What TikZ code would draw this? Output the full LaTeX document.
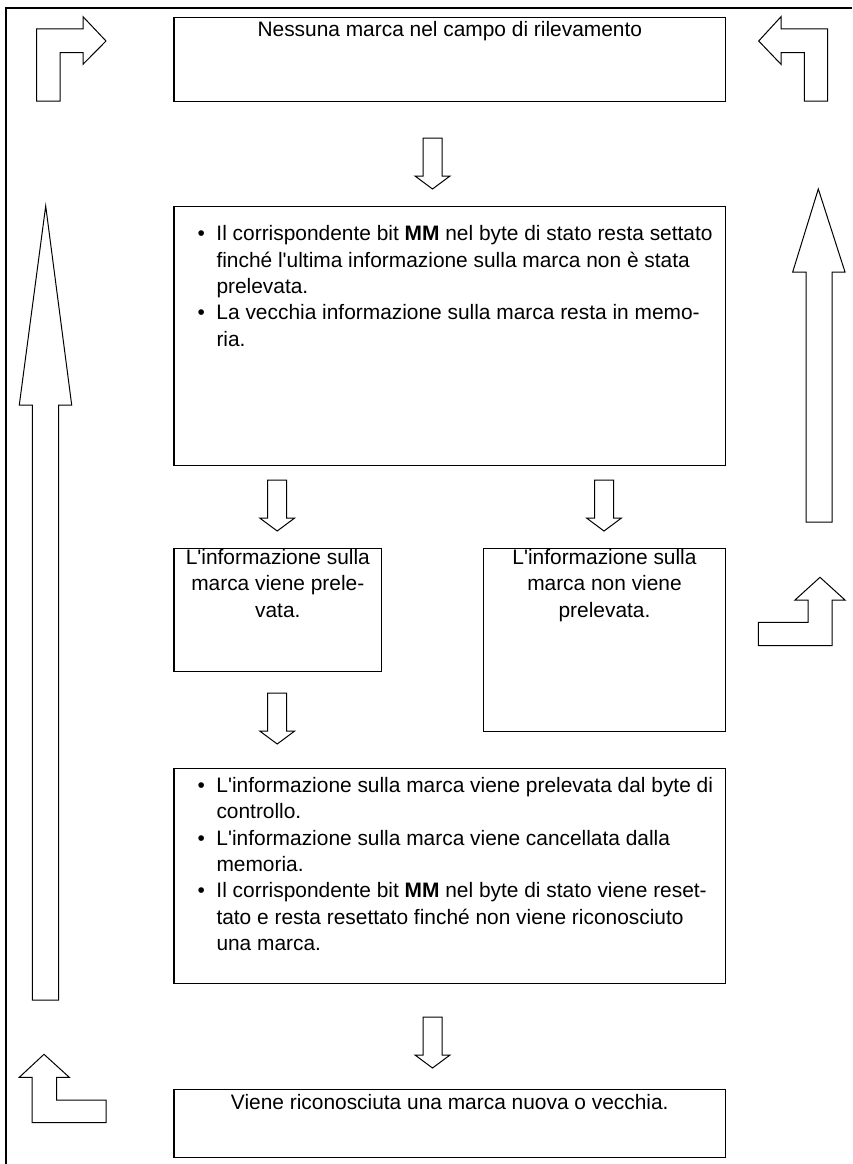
\documentclass[tikz,border=0pt]{standalone}
\usepackage{fontspec}
\setmainfont{Liberation Sans}
\usetikzlibrary{positioning,calc}
\newcommand{\bul}{\makebox[19pt][l]{\textbullet}}
\newcommand{\hang}{\hspace*{19pt}}
\newcommand{\apo}{\textquotesingle}
\newcommand{\blkdown}[2]{\draw[blkarrow] (#1-9.5,#2) -- ++(19,0) -- ++(0,38) -- ++(8,0) -- ++(-17.5,13) -- ++(-17.5,-13) -- ++(8,0) -- cycle;}
\tikzset{
  box/.style={draw,line width=1.3pt,inner sep=0pt,anchor=north west},
  txt/.style={font=\fontsize{20.9}{26.3}\selectfont,inner sep=0pt},
  blkarrow/.style={draw,line width=1pt,fill=white,line join=miter}
}
\begin{document}
\begin{tikzpicture}[x=1pt,y=-1pt]
  \useasboundingbox (0,0) rectangle (852,1164);
  \draw[line width=2pt] (6,1164) -- (6,8) -- (852,8);
  \node[box,minimum width=551.7pt,minimum height=84.3pt] (top) at (173.3,16.7) {};
  \node[box,minimum width=551.7pt,minimum height=259pt] (hold) at (173.3,206) {};
  \node[box,minimum width=207.7pt,minimum height=123.3pt] (taken) at (173.3,547.7) {};
  \node[box,minimum width=242.3pt,minimum height=183.3pt] (nottaken) at (482.7,547.7) {};
  \node[box,minimum width=551.7pt,minimum height=215.3pt] (clear) at (173.3,767.7) {};
  \node[box,minimum width=551.7pt,minimum height=67.7pt] (found) at (173.3,1089) {};
  \node[txt,below=4.5pt of top.north] (toptxt) {Nessuna marca nel campo di rilevamento};
  \node[txt,align=left,below right=19.5pt and 24pt of hold.north west] (holdtxt) {\bul Il corrispondente bit \textbf{MM} nel byte di stato resta settato\\
    \hang finché l\apo ultima informazione sulla marca non è stata\\
    \hang prelevata.\\
    \bul La vecchia informazione sulla marca resta in memo-\\
    \hang ria.};
  \node[txt,align=center,below=1.5pt of taken.north] (takentxt) {L\apo informazione sulla\\marca viene prele-\\vata.};
  \node[txt,align=center,below=1.5pt of nottaken.north] (nottakentxt) {L\apo informazione sulla\\marca non viene\\prelevata.};
  \node[txt,align=left,below right=9.5pt and 24pt of clear.north west] (cleartxt) {\bul L\apo informazione sulla marca viene prelevata dal byte di\\
    \hang controllo.\\
    \bul L\apo informazione sulla marca viene cancellata dalla\\
    \hang memoria.\\
    \bul Il corrispondente bit \textbf{MM} nel byte di stato viene reset-\\
    \hang tato e resta resettato finché non viene riconosciuto\\
    \hang una marca.};
  \node[txt,below=5pt of found.north] (foundtxt) {Viene riconosciuta una marca nuova o vecchia.};
  \blkdown{432.5}{138}
  \blkdown{277.2}{480}
  \blkdown{604}{480}
  \blkdown{277.2}{693}
  \blkdown{432.5}{1017}
  \draw[blkarrow] (36.7,101) -- (36.7,29) -- (83,29) -- (83,16.7) -- (106,41) -- (83,64.3) -- (83,52.7) -- (60,52.7) -- (60,101) -- cycle;
  \draw[blkarrow] (804.3,101) -- (804.3,52.7) -- (781,52.7) -- (781,64.3) -- (758.7,41) -- (781,16.7) -- (781,29) -- (827.7,29) -- (827.7,101) -- cycle;
  \draw[blkarrow] (45.7,206) -- (71.7,405) -- (58.7,405) -- (58.7,1000) -- (32.3,1000) -- (32.3,405) -- (19.3,405) -- cycle;
  \draw[blkarrow] (44,1054.3) -- (69.3,1077.3) -- (56.7,1077.3) -- (56.7,1100) -- (106,1100) -- (106,1122.7) -- (32,1122.7) -- (32,1077.3) -- (19.3,1077.3) -- cycle;
  \draw[blkarrow] (818.3,189) -- (845,272) -- (832,272) -- (832,522) -- (806,522) -- (806,272) -- (792.7,272) -- cycle;
  \draw[blkarrow] (820,577.3) -- (845,600) -- (832,600) -- (832,645.7) -- (758.3,645.7) -- (758.3,622.3) -- (808,622.3) -- (808,600) -- (795,600) -- cycle;
\end{tikzpicture}
\end{document}
